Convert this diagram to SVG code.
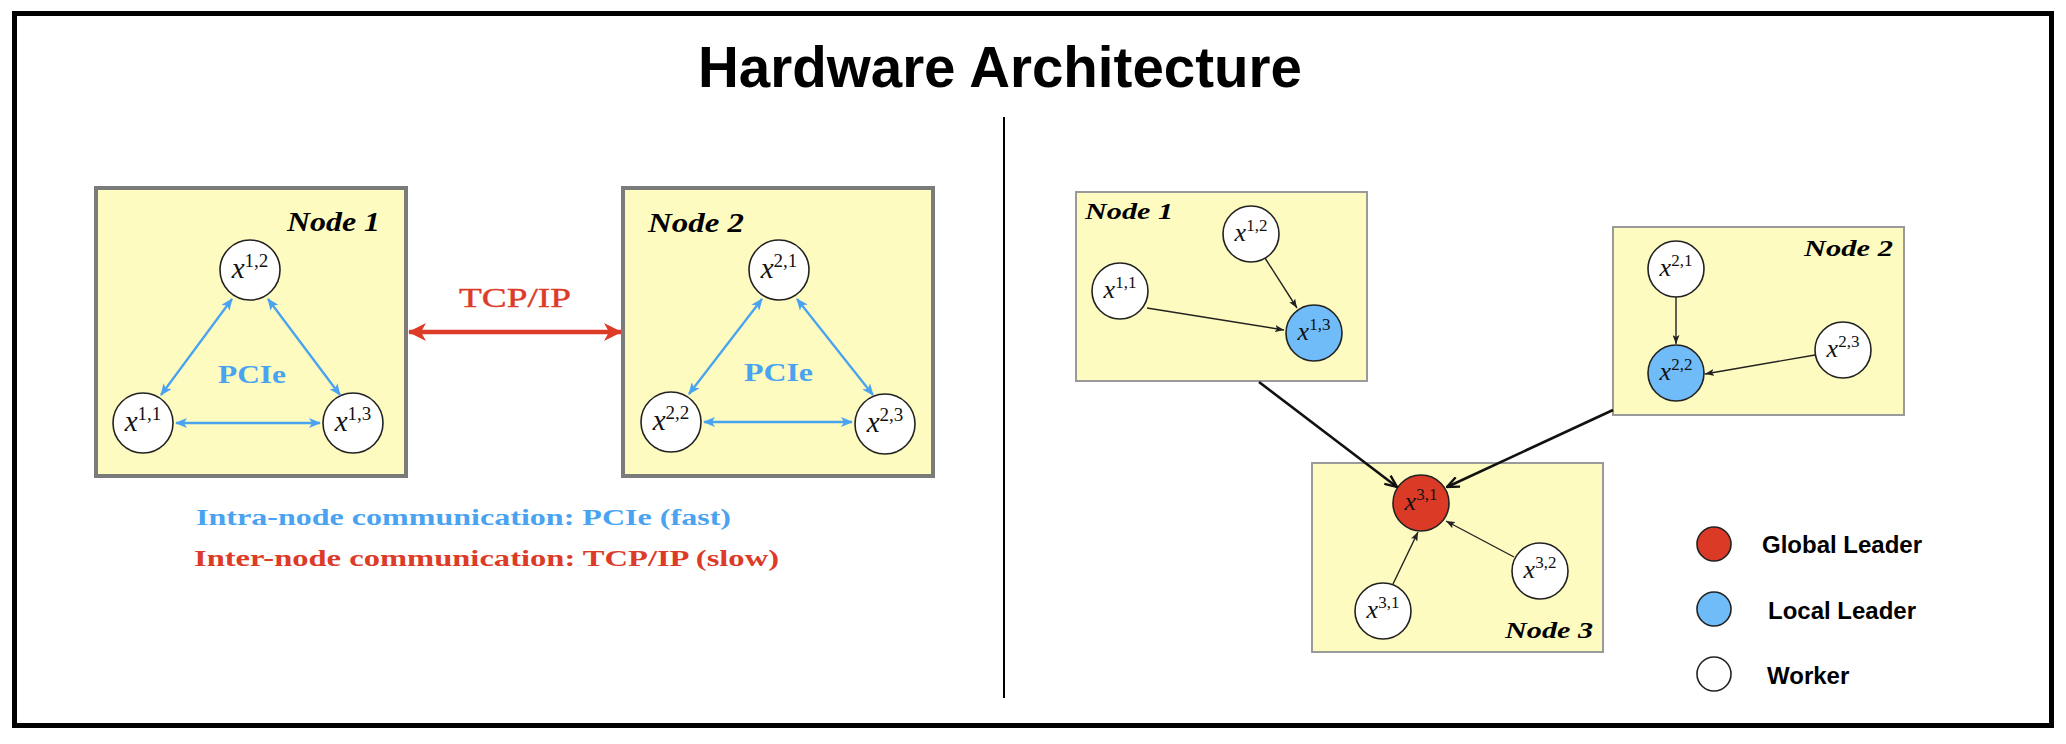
<svg xmlns="http://www.w3.org/2000/svg" width="2066" height="744" viewBox="0 0 2066 744">
<style>
.frame{fill:#fff;stroke:#000;stroke-width:5}
.lbox{fill:#fdfbc0;stroke:#7b7b7b;stroke-width:4}
.rbox{fill:#fdfbc0;stroke:#9a9a9a;stroke-width:2}
.c{fill:#fff;stroke:#222;stroke-width:1.6}
.blue{fill:#6fbcf8}
.red{fill:#db3b26}
.lbl{font-family:"Liberation Serif",serif;fill:#111;text-anchor:middle}
.xi{font-style:italic}
.nl{font-family:"Liberation Serif",serif;font-weight:bold;font-style:italic;fill:#000}
.bl{stroke:#4aa3f0;stroke-width:2.3;fill:none;marker-start:url(#ab);marker-end:url(#ab)}
.tk{stroke:#222;stroke-width:1.4;fill:none;marker-end:url(#as)}
.big{stroke:#111;stroke-width:2.6;fill:none;marker-end:url(#ao)}
.leg{font-family:"Liberation Sans",Arial,sans-serif;font-weight:bold;font-size:24px;fill:#000}
</style>
<defs>
<marker id="ab" viewBox="0 0 12 10" refX="11" refY="5" markerWidth="12" markerHeight="10" markerUnits="userSpaceOnUse" orient="auto-start-reverse"><path d="M0,0 L12,5 L0,10 L3,5 z" fill="#4aa3f0"/></marker>
<marker id="ar" viewBox="0 0 18 18" refX="17" refY="9" markerWidth="18" markerHeight="18" markerUnits="userSpaceOnUse" orient="auto-start-reverse"><path d="M0,0 L18,9 L0,18 L5,9 z" fill="#dc3b28"/></marker>
<marker id="as" viewBox="0 0 9 7" refX="9" refY="3.5" markerWidth="9" markerHeight="7" markerUnits="userSpaceOnUse" orient="auto"><path d="M0,0 L9,3.5 L0,7 L2,3.5 z" fill="#222"/></marker>
<marker id="ao" viewBox="0 0 14 12" refX="13" refY="6" markerWidth="14" markerHeight="12" markerUnits="userSpaceOnUse" orient="auto"><path d="M1,0.8 L13,6 L1,11.2" fill="none" stroke="#111" stroke-width="2.4"/></marker>
</defs>
<rect class="frame" x="14.5" y="13.5" width="2037" height="712"/>
<text x="1000" y="87" text-anchor="middle" font-family="'Liberation Sans',Arial,sans-serif" font-weight="bold" font-size="56.5">Hardware Architecture</text>
<line x1="1004" y1="117" x2="1004" y2="698" stroke="#000" stroke-width="2"/>

<g id="left-node1">
<rect class="lbox" x="96" y="188" width="310" height="288"/>
<text class="nl" x="287" y="231" font-size="27" textLength="93" lengthAdjust="spacingAndGlyphs">Node 1</text>
<text x="218" y="383" font-family="'Liberation Serif',serif" font-weight="bold" font-size="25" fill="#4aa3f0" textLength="68" lengthAdjust="spacingAndGlyphs">PCIe</text>
</g>
<g id="left-n1-x12"><circle class="c" cx="250" cy="270" r="30"/><text class="lbl" x="250" y="278"><tspan class="xi" font-size="29">x</tspan><tspan font-size="19" dy="-11">1,2</tspan></text></g>
<g id="left-n1-x11"><circle class="c" cx="143" cy="423" r="30"/><text class="lbl" x="143" y="431"><tspan class="xi" font-size="29">x</tspan><tspan font-size="19" dy="-11">1,1</tspan></text></g>
<g id="left-n1-x13"><circle class="c" cx="353" cy="423" r="30"/><text class="lbl" x="353" y="431"><tspan class="xi" font-size="29">x</tspan><tspan font-size="19" dy="-11">1,3</tspan></text></g>

<g id="left-node2">
<rect class="lbox" x="623" y="188" width="310" height="288"/>
<text class="nl" x="648" y="232" font-size="27" textLength="96" lengthAdjust="spacingAndGlyphs">Node 2</text>
<text x="744" y="381" font-family="'Liberation Serif',serif" font-weight="bold" font-size="25" fill="#4aa3f0" textLength="69" lengthAdjust="spacingAndGlyphs">PCIe</text>
</g>
<g id="left-n2-x21"><circle class="c" cx="779" cy="270" r="30"/><text class="lbl" x="779" y="278"><tspan class="xi" font-size="29">x</tspan><tspan font-size="19" dy="-11">2,1</tspan></text></g>
<g id="left-n2-x22"><circle class="c" cx="671" cy="422" r="30"/><text class="lbl" x="671" y="430"><tspan class="xi" font-size="29">x</tspan><tspan font-size="19" dy="-11">2,2</tspan></text></g>
<g id="left-n2-x23"><circle class="c" cx="885" cy="424" r="30"/><text class="lbl" x="885" y="432"><tspan class="xi" font-size="29">x</tspan><tspan font-size="19" dy="-11">2,3</tspan></text></g>

<g id="left-labels">
<text x="515" y="307" text-anchor="middle" font-family="'Liberation Serif',serif" font-size="28" fill="#dc3b28" stroke="#dc3b28" stroke-width="0.4" textLength="112" lengthAdjust="spacingAndGlyphs">TCP/IP</text>
<text x="196" y="525" font-family="'Liberation Serif',serif" font-weight="bold" font-size="24" fill="#4aa3f0" textLength="535" lengthAdjust="spacingAndGlyphs">Intra-node communication: PCIe (fast)</text>
<text x="194" y="566" font-family="'Liberation Serif',serif" font-weight="bold" font-size="24" fill="#dc3b28" textLength="585" lengthAdjust="spacingAndGlyphs">Inter-node communication: TCP/IP (slow)</text>
</g>

<g id="right-node1">
<rect class="rbox" x="1076" y="192" width="291" height="189"/>
<text class="nl" x="1085" y="219" font-size="24" textLength="88" lengthAdjust="spacingAndGlyphs">Node 1</text>
</g>
<g id="right-n1-x12"><circle class="c" cx="1251" cy="234" r="28"/><text class="lbl" x="1251" y="241"><tspan class="xi" font-size="26">x</tspan><tspan font-size="17" dy="-10">1,2</tspan></text></g>
<g id="right-n1-x11"><circle class="c" cx="1120" cy="291" r="28"/><text class="lbl" x="1120" y="298"><tspan class="xi" font-size="26">x</tspan><tspan font-size="17" dy="-10">1,1</tspan></text></g>
<g id="right-n1-x13"><circle class="c blue" cx="1314" cy="333" r="28"/><text class="lbl" x="1314" y="340"><tspan class="xi" font-size="26">x</tspan><tspan font-size="17" dy="-10">1,3</tspan></text></g>

<g id="right-node2">
<rect class="rbox" x="1613" y="227" width="291" height="188"/>
<text class="nl" x="1804" y="256" font-size="24" textLength="89" lengthAdjust="spacingAndGlyphs">Node 2</text>
</g>
<g id="right-n2-x21"><circle class="c" cx="1676" cy="269" r="28"/><text class="lbl" x="1676" y="276"><tspan class="xi" font-size="26">x</tspan><tspan font-size="17" dy="-10">2,1</tspan></text></g>
<g id="right-n2-x22"><circle class="c blue" cx="1676" cy="373" r="28"/><text class="lbl" x="1676" y="380"><tspan class="xi" font-size="26">x</tspan><tspan font-size="17" dy="-10">2,2</tspan></text></g>
<g id="right-n2-x23"><circle class="c" cx="1843" cy="350" r="28"/><text class="lbl" x="1843" y="357"><tspan class="xi" font-size="26">x</tspan><tspan font-size="17" dy="-10">2,3</tspan></text></g>

<g id="right-node3">
<rect class="rbox" x="1312" y="463" width="291" height="189"/>
<text class="nl" x="1505" y="638" font-size="24" textLength="88" lengthAdjust="spacingAndGlyphs">Node 3</text>
</g>
<g id="right-n3-leader"><circle class="c red" cx="1421" cy="503" r="28"/><text class="lbl" x="1421" y="510"><tspan class="xi" font-size="26">x</tspan><tspan font-size="17" dy="-10">3,1</tspan></text></g>
<g id="right-n3-x31"><circle class="c" cx="1383" cy="611" r="28"/><text class="lbl" x="1383" y="618"><tspan class="xi" font-size="26">x</tspan><tspan font-size="17" dy="-10">3,1</tspan></text></g>
<g id="right-n3-x32"><circle class="c" cx="1540" cy="571" r="28"/><text class="lbl" x="1540" y="578"><tspan class="xi" font-size="26">x</tspan><tspan font-size="17" dy="-10">3,2</tspan></text></g>

<g id="legend">
<circle class="c red" cx="1714" cy="544" r="17"/>
<text class="leg" x="1762" y="553">Global Leader</text>
<circle class="c blue" cx="1714" cy="609" r="17"/>
<text class="leg" x="1768" y="619">Local Leader</text>
<circle class="c" cx="1714" cy="674" r="17"/>
<text class="leg" x="1767" y="684">Worker</text>
</g>

<g id="connectors">
<line class="bl" x1="161" y1="395" x2="232" y2="299"/>
<line class="bl" x1="268" y1="299" x2="340" y2="395"/>
<line class="bl" x1="176" y1="423" x2="320" y2="423"/>
<line class="bl" x1="689" y1="394" x2="762" y2="299"/>
<line class="bl" x1="797" y1="299" x2="873" y2="395"/>
<line class="bl" x1="704" y1="422" x2="852" y2="422"/>
<line x1="409" y1="332" x2="621" y2="332" stroke="#dc3b28" stroke-width="4.5" marker-start="url(#ar)" marker-end="url(#ar)"/>
<line class="tk" x1="1147" y1="308" x2="1284" y2="330"/>
<line class="tk" x1="1265" y1="258" x2="1297" y2="308"/>
<line class="tk" x1="1676" y1="297" x2="1676" y2="344"/>
<line class="tk" x1="1815" y1="355" x2="1705" y2="374"/>
<line class="tk" x1="1393" y1="584" x2="1418" y2="532"/>
<line class="tk" x1="1514" y1="557" x2="1446" y2="521"/>
<line class="big" x1="1259" y1="382" x2="1397" y2="487"/>
<line class="big" x1="1613" y1="410" x2="1447" y2="487"/>
</g>
</svg>
